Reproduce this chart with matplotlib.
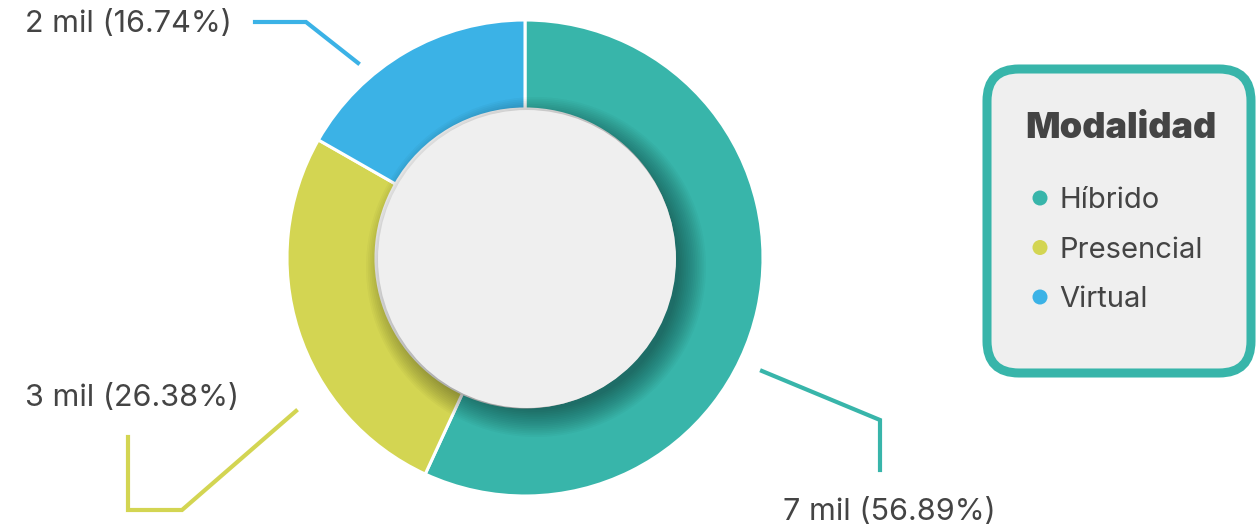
import matplotlib.pyplot as plt
from matplotlib.patches import Circle, FancyBboxPatch

# datos
categorias = ['Híbrido', 'Presencial', 'Virtual']
porcentajes = [56.89, 26.38, 16.74]
miles = [7, 3, 2]
colores = ['#38b5aa', '#d3d552', '#3bb2e6']

W, H = 1256, 530
plt.rcParams['font.family'] = ['Inter', 'DejaVu Sans']
txt = '#444444'

fig = plt.figure(figsize=(W / 100, H / 100), dpi=100)
ax = fig.add_axes([0, 0, 1, 1])


def Y(y):
    # coordenadas de pixel (y hacia abajo) -> datos
    return H - y


cx, cy = 525, Y(258)
r_out, r_in = 238, 149

ax.pie(porcentajes, colors=colores, startangle=90, counterclock=False,
       radius=r_out, center=(cx, cy),
       wedgeprops=dict(width=r_out - r_in, edgecolor='white', linewidth=2.2))

# sombra del circulo interior
for i in range(16):
    ax.add_patch(Circle((cx + 11, cy - 9), r_in - 6 + i * 1.8,
                        facecolor='black', alpha=0.026, lw=0, zorder=3))
ax.add_patch(Circle((cx + 2, cy - 1), r_in, facecolor='#efefef', lw=0, zorder=4))

# etiquetas con lineas guia
lineas = {
    'Virtual': [(255, 22), (306, 22), (358, 63)],
    'Presencial': [(128, 437), (128, 510), (182, 510), (296, 411)],
    'Híbrido': [(762, 371), (880, 420), (880, 470)],
}
pos_txt = {'Virtual': (25, 32), 'Presencial': (25, 406), 'Híbrido': (783, 520)}
for cat, pct, m, col in zip(categorias, porcentajes, miles, colores):
    xs = [p[0] for p in lineas[cat]]
    ys = [Y(p[1]) for p in lineas[cat]]
    ax.plot(xs, ys, color=col, lw=3, solid_joinstyle='miter', zorder=2)
    tx, ty = pos_txt[cat]
    ax.text(tx, Y(ty), f'{m} mil ({pct:.2f}%)', fontsize=22, color=txt,
            ha='left', va='baseline')

# leyenda
caja = FancyBboxPatch((987, Y(373)), 264, 373 - 69,
                      boxstyle='round,pad=0,rounding_size=32',
                      facecolor='#efefef', edgecolor='#38b5aa', lw=6.5, zorder=5)
ax.add_patch(caja)
ax.text(1121, Y(138), 'Modalidad', fontsize=26, fontweight='black', color=txt,
        ha='center', va='baseline', zorder=6)
for i, (cat, col) in enumerate(zip(categorias, colores)):
    yy = 198 + i * 49.5
    ax.add_patch(Circle((1040, Y(yy)), 7.5, facecolor=col, lw=0, zorder=6))
    ax.text(1059, Y(yy + 10), cat, fontsize=21, color=txt, ha='left',
            va='baseline', zorder=6)

ax.set_xlim(0, W)
ax.set_ylim(0, H)
ax.set_aspect('equal')
ax.axis('off')

fig.savefig('out.png', dpi=100)
